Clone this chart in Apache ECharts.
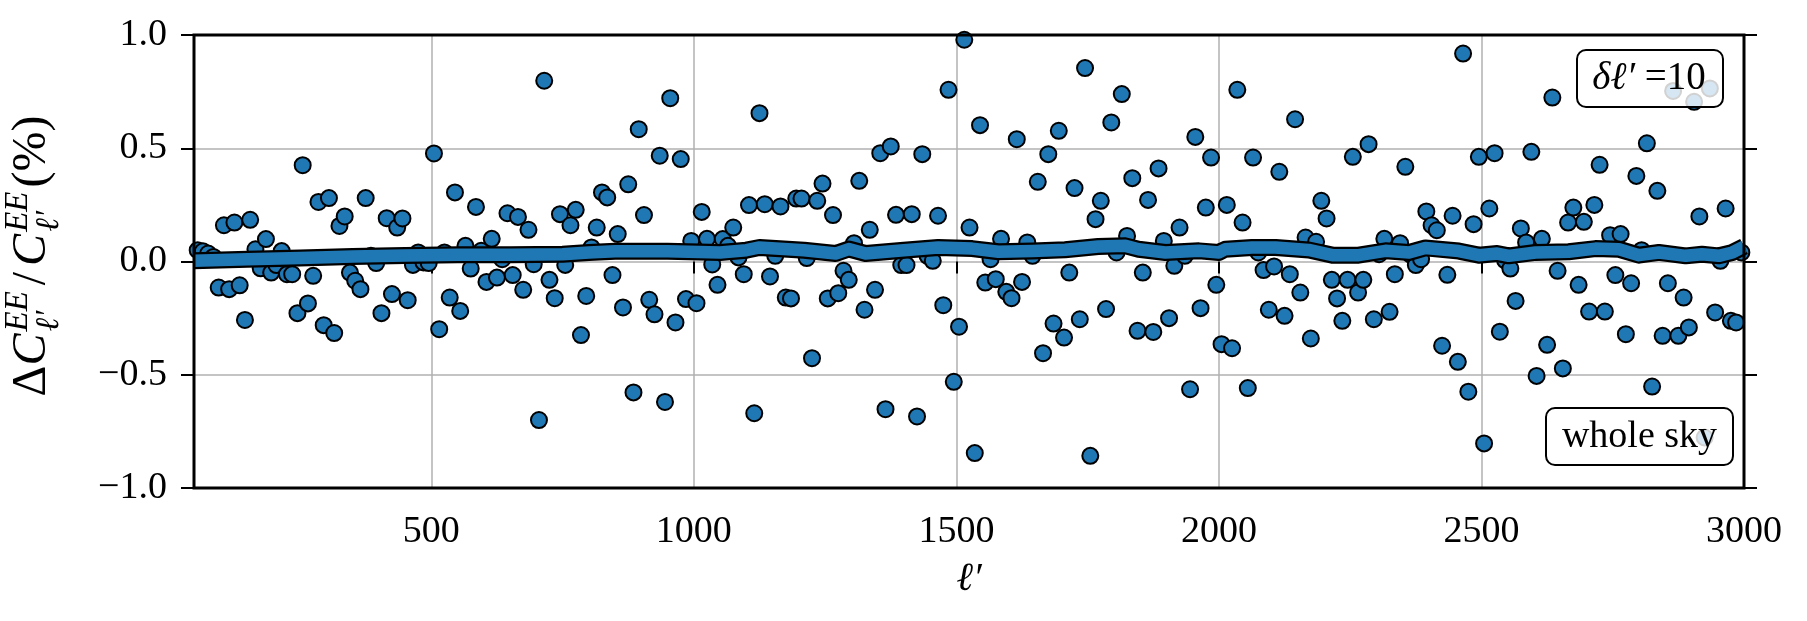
<!DOCTYPE html>
<html><head><meta charset="utf-8">
<script src="https://cdn.jsdelivr.net/npm/echarts@6/dist/echarts.min.js"></script>
<style>html,body{margin:0;padding:0;background:#fff}#c{width:1807px;height:621px}</style>
</head><body><div id="c"></div>
<script>
// ---------------- data ----------------
const ELL_START = 45, DELTA_ELL = 10;        // binned multipoles (δℓ' = 10)
const X_MIN = 48, X_MAX = 3000;
const xTicks = [500, 1000, 1500, 2000, 2500, 3000];
const yTicks = [-1.0, -0.5, 0.0, 0.5, 1.0];

// ΔC/C (%) per bin, ℓ' = 45, 55, ...
const dC_0045_0535 = [0.06, 0.05, 0.045, 0.035, 0.02, -0.115, 0.16, -0.122, 0.172, -0.105,
  -0.258, 0.184, 0.054, -0.03, 0.099, -0.049, -0.016, 0.046, -0.056, -0.056,
  -0.228, 0.425, -0.185, -0.063, 0.263, -0.281, 0.28, -0.316, 0.157, 0.199,
  -0.049, -0.085, -0.122, 0.28, 0.025, -0.007, -0.228, 0.191, -0.144, 0.15,
  0.19, -0.171, -0.015, 0.04, -0.004, -0.007, 0.477, -0.299, 0.04, -0.159];
const dC_0545_1035 = [0.305, -0.218, 0.069, -0.031, 0.241, 0.047, -0.09, 0.10, -0.071, 0.01,
  0.213, -0.06, 0.197, -0.125, 0.14, -0.012, -0.70, 0.798, -0.081, -0.162,
  0.209, -0.015, 0.16, 0.228, -0.325, -0.152, 0.062, 0.15, 0.305, 0.283,
  -0.06, 0.121, -0.203, 0.341, -0.578, 0.584, 0.205, -0.169, -0.233, 0.467,
  -0.62, 0.721, -0.269, 0.452, -0.166, 0.091, -0.184, 0.219, 0.10, -0.013];
const dC_1045_1535 = [-0.103, 0.099, 0.069, 0.15, 0.018, -0.056, 0.249, -0.67, 0.655, 0.253,
  -0.066, 0.025, 0.243, -0.159, -0.163, 0.278, 0.278, 0.015, -0.427, 0.268,
  0.344, -0.163, 0.205, -0.14, -0.041, -0.081, 0.081, 0.356, -0.213, 0.14,
  -0.125, 0.478, -0.652, 0.508, 0.206, -0.016, -0.016, 0.209, -0.684, 0.474,
  0.025, 0.003, 0.202, -0.193, 0.758, -0.531, -0.288, 0.979, 0.15, -0.846];
const dC_1545_2035 = [0.602, -0.093, 0.01, -0.078, 0.10, -0.134, -0.162, 0.54, -0.09, 0.084,
  0.025, 0.352, -0.405, 0.474, -0.274, 0.577, -0.336, -0.049, 0.324, -0.255,
  0.854, -0.858, 0.187, 0.268, -0.21, 0.614, 0.04, 0.739, 0.113, 0.368,
  -0.306, -0.049, 0.272, -0.311, 0.411, 0.091, -0.25, -0.019, 0.15, 0.025,
  -0.564, 0.55, -0.206, 0.238, 0.459, -0.103, -0.365, 0.25, -0.383, 0.758];
const dC_2045_2535 = [0.172, -0.559, 0.459, 0.04, -0.038, -0.213, -0.022, 0.396, -0.24, -0.056,
  0.628, -0.137, 0.106, -0.34, 0.087, 0.268, 0.19, -0.081, -0.163, -0.262,
  -0.081, 0.462, -0.137, -0.081, 0.518, -0.255, 0.032, 0.10, -0.222, -0.056,
  0.081, 0.418, 0.03, -0.016, 0.01, 0.221, 0.16, 0.138, -0.372, -0.059,
  0.202, -0.443, 0.918, -0.575, 0.165, 0.462, -0.803, 0.234, 0.478, -0.31];
const dC_2545_2995 = [0.005, -0.031, -0.174, 0.146, 0.084, 0.484, -0.505, 0.10, -0.368, 0.724,
  -0.041, -0.472, 0.172, 0.238, -0.103, 0.175, -0.221, 0.25, 0.427, -0.221,
  0.116, -0.06, 0.121, -0.321, -0.096, 0.378, 0.05, 0.522, -0.552, 0.312,
  -0.328, -0.096, 0.753, -0.328, -0.159, -0.291, 0.705, 0.199, -0.777, 0.764,
  -0.225, 0.003, 0.234, -0.262, -0.269, 0.04];

// smooth mean curve
const meanEll = [48, 150, 250, 350, 450, 550, 650, 750, 800, 850, 950, 1050, 1100, 1125, 1210, 1270, 1295, 1327, 1400, 1465,
  1530, 1580, 1645, 1707, 1770, 1822, 1847, 1898, 1962, 2000, 2012, 2063, 2108, 2171, 2216, 2266, 2317, 2362, 2393, 2457,
  2495, 2530, 2552, 2603, 2666, 2717, 2762, 2800, 2838, 2889, 2920, 2952, 2978, 3000];
const meanVal = [0.003, 0.01, 0.015, 0.022, 0.027, 0.03, 0.03, 0.032, 0.04, 0.045, 0.045, 0.04, 0.05, 0.062, 0.05, 0.035, 0.055, 0.035, 0.05, 0.062,
  0.057, 0.043, 0.046, 0.052, 0.066, 0.069, 0.054, 0.04, 0.047, 0.04, 0.054, 0.062, 0.062, 0.051, 0.028, 0.028, 0.047, 0.04, 0.06, 0.046,
  0.028, 0.035, 0.025, 0.04, 0.043, 0.057, 0.054, 0.028, 0.04, 0.025, 0.032, 0.025, 0.04, 0.066];

// ---------------- build ----------------
const dC = [].concat(dC_0045_0535, dC_0545_1035, dC_1045_1535, dC_1545_2035, dC_2045_2535, dC_2545_2995);
const scatterData = dC.map((v, i) => [ELL_START + i * DELTA_ELL, v]);
const meanData = meanEll.map((l, i) => [l, meanVal[i]]);

const FF = '"Liberation Serif", "DejaVu Serif", serif';
const BLUE = '#1f77b4';
const GRID = { left: 194, right: 63, top: 35, bottom: 133 };
const W = 1807, H = 621;
const mctx = document.createElement('canvas').getContext('2d');
function tw(t, fs, it) { mctx.font = (it ? 'italic ' : '') + fs + 'px ' + FF; return mctx.measureText(t).width; }

// y-axis title built from pieces (rotated)
const MAIN = 48, SMALL = 33;
const parts = [
  { items: [{ t: 'Δ', fs: MAIN, it: false, dy: 0 }], after: 0 },
  { items: [{ t: 'C', fs: MAIN, it: true, dy: 0 }], after: 2 },
  { items: [{ t: 'EE', fs: SMALL, it: true, dy: -20 }, { t: 'ℓ′', fs: SMALL, it: true, dy: 11 }], after: 6 },
  { items: [{ t: '/', fs: MAIN, it: false, dy: 0 }], after: 6 },
  { items: [{ t: 'C', fs: MAIN, it: true, dy: 0 }], after: 2 },
  { items: [{ t: 'EE', fs: SMALL, it: true, dy: -20 }, { t: 'ℓ′', fs: SMALL, it: true, dy: 11 }], after: 4 },
  { items: [{ t: '(%)', fs: MAIN, it: false, dy: 0 }], after: 0 }
];
let total = 0;
parts.forEach(p => { p.w = Math.max(...p.items.map(o => tw(o.t, o.fs, o.it))) + p.after; total += p.w; });
const titleChildren = [];
let cur = -total / 2;
parts.forEach(p => {
  p.items.forEach(o => {
    titleChildren.push({
      type: 'text', x: cur, y: o.dy - 0.3375 * o.fs,
      style: { text: o.t, font: (o.it ? 'italic ' : '') + o.fs + 'px ' + FF, fill: '#000', align: 'left', verticalAlign: 'middle' }
    });
  });
  cur += p.w;
});

const chart = echarts.init(document.getElementById('c'), null, { renderer: 'canvas' });
const yFmt = v => (v < 0 ? '−' : '') + Math.abs(v).toFixed(1);
const xFmt = v => String(Math.round(v));
const labelStyle = { fontFamily: FF, fontSize: 38, color: '#000' };

chart.setOption({
  animation: false,
  backgroundColor: '#fff',
  grid: Object.assign({ show: false }, GRID),
  xAxis: [{
    type: 'value', min: X_MIN, max: X_MAX, position: 'bottom',
    axisLine: { show: false },
    axisTick: { show: true, inside: false, length: 12, lineStyle: { color: '#000', width: 2 }, customValues: xTicks },
    axisLabel: Object.assign({ customValues: xTicks, margin: 25, formatter: xFmt }, labelStyle),
    splitLine: { show: true, lineStyle: { color: '#b0b0b0', width: 1.5 } },
    name: 'ℓ′', nameLocation: 'middle', nameGap: 71,
    nameTextStyle: { fontFamily: FF, fontStyle: 'italic', fontSize: 40, color: '#000' }
  }],
  yAxis: [{
    type: 'value', min: yTicks[0], max: yTicks[yTicks.length - 1], interval: 0.5, position: 'left',
    axisLine: { show: false },
    axisTick: { show: true, inside: false, length: 13, lineStyle: { color: '#000', width: 2 } },
    axisLabel: Object.assign({ formatter: yFmt, margin: 27 }, labelStyle),
    splitLine: { show: true, lineStyle: { color: '#b0b0b0', width: 1.5 } }
  }, {
    type: 'value', min: yTicks[0], max: yTicks[yTicks.length - 1], interval: 0.5, position: 'right',
    axisLine: { show: false },
    axisTick: { show: true, inside: false, length: 13, lineStyle: { color: '#000', width: 2 } },
    axisLabel: { show: false },
    splitLine: { show: false }
  }],
  series: [{
    type: 'scatter', data: scatterData, symbol: 'circle', symbolSize: 16, z: 2, clip: true,
    itemStyle: { color: BLUE, borderColor: '#000', borderWidth: 2, opacity: 1 },
    emphasis: { disabled: true }
  }, {
    type: 'line', data: meanData, showSymbol: false, symbol: 'none', z: 3, clip: true,
    lineStyle: { color: '#000', width: 17, join: 'round', cap: 'butt' }, emphasis: { disabled: true }
  }, {
    type: 'line', data: meanData, showSymbol: false, symbol: 'none', z: 4, clip: true,
    lineStyle: { color: BLUE, width: 12.5, join: 'round', cap: 'butt' }, emphasis: { disabled: true }
  }],
  graphic: [
    // plot frame (spines)
    { type: 'rect', z: 90, silent: true,
      shape: { x: GRID.left, y: GRID.top, width: W - GRID.left - GRID.right, height: H - GRID.top - GRID.bottom },
      style: { fill: 'none', stroke: '#000', lineWidth: 3 } },
    { type: 'rect', z: 100, shape: { x: 1577, y: 50, width: 146, height: 57, r: 9 },
      style: { fill: 'rgba(255,255,255,0.82)', stroke: '#000', lineWidth: 2 } },
    { type: 'text', z: 101, x: 1649, y: 79,
      style: { text: '{i|δℓ′ }{n|=10}', align: 'center', verticalAlign: 'middle', fill: '#000',
        rich: { i: { fontFamily: FF, fontStyle: 'italic', fontSize: 39, fill: '#000' }, n: { fontFamily: FF, fontSize: 39, fill: '#000' } } } },
    { type: 'rect', z: 100, shape: { x: 1546, y: 408, width: 187, height: 57, r: 9 },
      style: { fill: 'rgba(255,255,255,0.82)', stroke: '#000', lineWidth: 2 } },
    { type: 'text', z: 101, x: 1639.5, y: 437,
      style: { text: 'whole sky', font: '38px ' + FF, fill: '#000', align: 'center', verticalAlign: 'middle' } },
    { type: 'group', x: 49, y: 256, rotation: Math.PI / 2, z: 100, children: titleChildren }
  ]
});
</script>
</body></html>
